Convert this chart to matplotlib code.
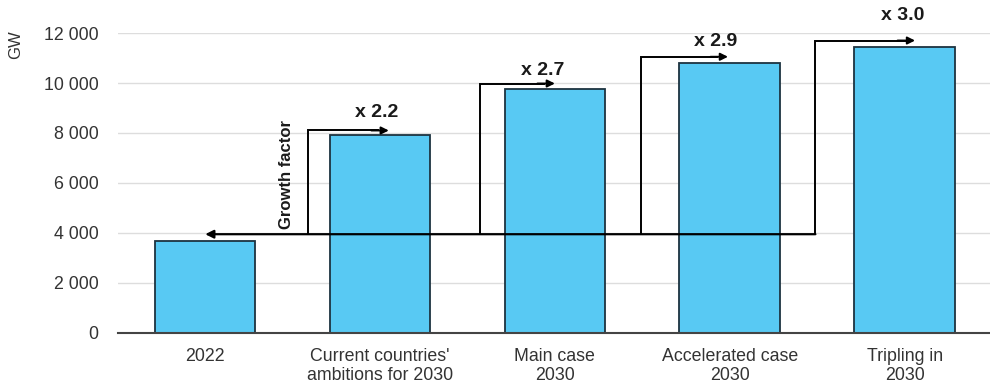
import matplotlib.pyplot as plt

plt.rcParams['font.family'] = ['Liberation Sans', 'DejaVu Sans']

categories = ["2022", "Current countries'\nambitions for 2030", "Main case\n2030",
              "Accelerated case\n2030", "Tripling in\n2030"]
capacity_gw = [3680, 7920, 9760, 10800, 11450]

# growth factor annotations (one per 2030 bar)
growth_labels = ["x 2.2", "x 2.7", "x 2.9", "x 3.0"]
step_levels = [8100, 9980, 11050, 11700]
step_x = [0.59, 1.57, 2.49, 3.49]
tip_x = [1.05, 2.0, 2.99, 4.06]
label_y = [8800, 10500, 11650, 12700]
baseline = 3950

fig = plt.figure(figsize=(9.9, 3.84), dpi=100)
ax = fig.add_axes([0.119, 0.133, 0.883, 0.781])

x = range(len(categories))
ax.bar(x, capacity_gw, width=0.575, color='#58C9F3', edgecolor='#1d3340',
       linewidth=1.3, zorder=2)

ax.set_xlim(-0.5, 4.5)
ax.set_ylim(0, 12000)
ax.set_yticks(range(0, 12001, 2000))
ax.set_yticklabels([f"{v:,}".replace(",", " ") for v in range(0, 12001, 2000)])
ax.set_xticks(list(x))
ax.set_xticklabels(categories, linespacing=1.1)
ax.tick_params(axis='both', length=0, labelsize=12.8, colors='#333333')
ax.tick_params(axis='y', pad=14)
ax.tick_params(axis='x', pad=11)
ax.grid(axis='y', color='#dddddd', linewidth=1, zorder=0)
for s in ['top', 'right', 'left']:
    ax.spines[s].set_visible(False)
ax.spines['bottom'].set_color('#444444')
ax.spines['bottom'].set_linewidth(1.5)
ax.spines['bottom'].set_zorder(3)

fig.text(0.016, 1 - 45 / 384, "GW", rotation=90, ha='center', va='center',
         fontsize=12, color='#333333')

# long baseline arrow pointing back to 2022
ax.annotate("", xy=(0, baseline), xytext=(3.49, baseline),
            arrowprops=dict(arrowstyle='-|>', color='black', lw=1.6,
                            mutation_scale=12, shrinkA=0, shrinkB=0),
            zorder=4)

for sx, lvl, tx, lab, ly in zip(step_x, step_levels, tip_x, growth_labels, label_y):
    ax.plot([sx, sx, tx - 0.06], [baseline, lvl, lvl], color='black', lw=1.4,
            zorder=4, solid_joinstyle='miter')
    ax.annotate("", xy=(tx, lvl), xytext=(tx - 0.1, lvl),
                arrowprops=dict(arrowstyle='-|>', color='black', lw=1.4,
                                mutation_scale=11, shrinkA=0, shrinkB=0),
                zorder=4)
    ax.text(tx - 0.07, ly, lab, ha='center', va='center',
            fontsize=14, fontweight='bold', color='#1a1a1a', clip_on=False)

ax.text(0.465, 4150, "Growth factor", rotation=90, ha='center', va='bottom',
        fontsize=12, fontweight='bold', color='#1a1a1a')

fig.savefig("out.png", dpi=100)
